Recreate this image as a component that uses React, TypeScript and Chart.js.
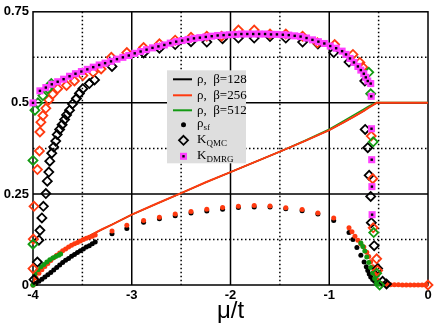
import React, { useEffect, useRef } from "react";
import { Chart, registerables } from "chart.js";
Chart.register(...registerables);

const RED = "#ff3a10";
const GREEN = "#139a13";
const MAGENTA = "#ff40ff";

// axis ticks / grid
const xTicks = [-4, -3, -2, -1, 0];
const yTicks = [0, 0.25, 0.5, 0.75];
const xMajorGrid = [-3, -2, -1];
const yMajorGrid = [0.25, 0.5];
const xMinorGrid = [-3.5, -2.5, -1.5, -0.5];
const yMinorGrid = [0.125, 0.375, 0.625];

// density rho (lines)
const rhoX = [-4, -3.97, -3.94, -3.9, -3.85, -3.8, -3.7, -3.6, -3.5, -3.4, -3.3, -3.2, -3.0, -2.75, -2.5, -2.25, -2.0, -1.75, -1.5, -1.25, -1.0, -0.85, -0.75, -0.65, -0.6, -0.55, -0.52, -0.4, -0.2, 0];
const rho128Y = [0, 0.028, 0.04, 0.052, 0.064, 0.074, 0.092, 0.109, 0.124, 0.139, 0.153, 0.166, 0.193, 0.223, 0.252, 0.282, 0.31, 0.338, 0.366, 0.395, 0.425, 0.447, 0.462, 0.478, 0.487, 0.495, 0.5, 0.5, 0.5, 0.5];
const rho256Y = [0, 0.028, 0.04, 0.052, 0.064, 0.074, 0.092, 0.109, 0.124, 0.139, 0.153, 0.166, 0.193, 0.223, 0.252, 0.282, 0.31, 0.338, 0.366, 0.395, 0.425, 0.447, 0.462, 0.478, 0.487, 0.495, 0.5, 0.5, 0.5, 0.5];
const rho512Y = [0, 0.028, 0.04, 0.052, 0.064, 0.074, 0.092, 0.109, 0.124, 0.139, 0.153, 0.166, 0.193, 0.223, 0.252, 0.282, 0.31, 0.338, 0.366, 0.396, 0.428, 0.451, 0.467, 0.483, 0.491, 0.498, 0.501, 0.501, 0.501, 0.501];

// superfluid density rho_sf (dots)
const sf128X = [-4, -3.97, -3.94, -3.91, -3.88, -3.85, -3.82, -3.79, -3.76, -3.73, -3.7, -3.67, -3.64, -3.61, -3.58, -3.55, -3.52, -3.49, -3.46, -3.43, -3.4, -3.37,
  -3.2, -3.05, -2.88, -2.72, -2.56, -2.4, -2.24, -2.08, -1.92, -1.76, -1.6, -1.44, -1.275, -1.115, -0.955,
  -0.8, -0.76, -0.72, -0.68, -0.647, -0.625, -0.61, -0.595, -0.58, -0.56, -0.54, -0.52, -0.5, -0.47, -0.44, -0.41];
const sf128Y = [0, 0.004, 0.01, 0.016, 0.022, 0.028, 0.034, 0.041, 0.048, 0.055, 0.062, 0.068, 0.073, 0.079, 0.084, 0.089, 0.094, 0.099, 0.104, 0.108, 0.113, 0.118,
  0.141, 0.155, 0.172, 0.182, 0.19, 0.198, 0.203, 0.208, 0.213, 0.214, 0.214, 0.209, 0.204, 0.195, 0.177,
  0.144, 0.125, 0.103, 0.082, 0.063, 0.05, 0.04, 0.03, 0.022, 0.015, 0.01, 0.006, 0.004, 0.003, 0.002, 0.002];
const sf256X = [-4, -3.97, -3.94, -3.91, -3.88, -3.85, -3.82, -3.79, -3.76, -3.73, -3.7, -3.67, -3.64, -3.61, -3.58, -3.55, -3.52, -3.49, -3.46, -3.43, -3.4, -3.37,
  -3.2, -3.05, -2.88, -2.72, -2.56, -2.4, -2.24, -2.08, -1.92, -1.76, -1.6, -1.44, -1.275, -1.115, -0.955,
  -0.8, -0.77, -0.74, -0.71, -0.68, -0.65, -0.62, -0.6, -0.58, -0.56, -0.545, -0.53, -0.51, -0.49, -0.46, -0.42, -0.38, -0.34, -0.3, -0.26, -0.22, -0.18, -0.14, -0.1, -0.06, -0.02];
const sf256Y = [0, 0.02, 0.032, 0.042, 0.051, 0.059, 0.067, 0.075, 0.082, 0.088, 0.094, 0.099, 0.104, 0.109, 0.113, 0.117, 0.121, 0.125, 0.128, 0.131, 0.134, 0.137,
  0.148, 0.164, 0.177, 0.186, 0.195, 0.202, 0.208, 0.213, 0.216, 0.218, 0.217, 0.212, 0.207, 0.198, 0.184,
  0.157, 0.146, 0.134, 0.123, 0.113, 0.104, 0.09, 0.078, 0.064, 0.05, 0.04, 0.027, 0.013, 0.005, 0.003, 0.002, 0.001, 0.001, 0.001, 0, 0, 0, 0, 0, 0, 0];
const sf512X = [-4, -3.98, -3.95, -3.92, -3.89, -3.86, -3.83, -3.8, -3.77, -3.74, -3.72,
  -0.68, -0.66, -0.64, -0.62, -0.6, -0.58, -0.56, -0.54, -0.52, -0.5];
const sf512Y = [0, 0.03, 0.042, 0.05, 0.056, 0.063, 0.069, 0.074, 0.078, 0.082, 0.085,
  0.115, 0.106, 0.093, 0.077, 0.062, 0.048, 0.033, 0.018, 0.007, 0.002];

// K from QMC (open diamonds)
const kq128X = [-3.99, -3.956, -3.94, -3.93, -3.91, -3.895, -3.87, -3.855, -3.84, -3.83, -3.81, -3.79, -3.77, -3.755, -3.73, -3.705, -3.68, -3.66, -3.63, -3.6, -3.56, -3.53, -3.495, -3.43, -3.377,
  -3.2, -2.88, -2.72, -2.56, -2.4, -2.24, -2.08, -1.92, -1.76, -1.6, -1.44, -1.27, -1.115, -0.955, -0.8, -0.64,
  -0.636, -0.61, -0.596, -0.58, -0.574, -0.545, -0.51, -0.46, -0.42];
const kq128Y = [0.015, 0.063, 0.123, 0.15, 0.184, 0.216, 0.251, 0.285, 0.31, 0.34, 0.362, 0.379, 0.395, 0.413, 0.427, 0.44, 0.454, 0.467, 0.48, 0.497, 0.512, 0.526, 0.539, 0.553, 0.563,
  0.6, 0.637, 0.65, 0.66, 0.668, 0.667, 0.676, 0.678, 0.678, 0.682, 0.678, 0.667, 0.662, 0.638, 0.612, 0.56,
  0.427, 0.377, 0.301, 0.243, 0.171, 0.108, 0.045, 0.01, 0.003];
const kq256X = [-4, -3.997, -3.99, -3.955, -3.935, -3.93, -3.92, -3.9, -3.87, -3.84, -3.8, -3.75, -3.66, -3.58, -3.495, -3.39, -3.31, -3.207, -3.05, -2.88, -2.72, -2.56, -2.4, -2.24, -2.09, -1.92, -1.76, -1.6, -1.44, -1.27, -1.12, -0.945, -0.76, -0.69, -0.66,
  -0.575, -0.56, -0.555, -0.52, -0.51, 0];
const kq256Y = [0.045, 0.126, 0.216, 0.317, 0.368, 0.42, 0.447, 0.465, 0.485, 0.508, 0.524, 0.539, 0.548, 0.56, 0.575, 0.584, 0.593, 0.625, 0.638, 0.652, 0.662, 0.672, 0.68, 0.683, 0.683, 0.7, 0.7, 0.689, 0.689, 0.683, 0.665, 0.66, 0.633, 0.611, 0.598,
  0.409, 0.292, 0.157, 0.072, 0.04, 0];
const kq512X = [-4, -4, -3.98, -3.95, -3.9, -3.85, -3.815, -0.6, -0.58, -0.555, -0.55, -0.52, -0.49];
const kq512Y = [0.112, 0.342, 0.48, 0.5, 0.52, 0.539, 0.553, 0.584, 0.525, 0.393, 0.144, 0.032, 0];

// K from DMRG (magenta squares)
const kdX = [-4, -3.93, -3.87, -3.81, -3.75, -3.69, -3.63, -3.57, -3.51, -3.45, -3.39, -3.33, -3.27, -3.21, -3.15, -3.09, -3.03, -2.97, -2.91, -2.85, -2.79, -2.73, -2.67, -2.61, -2.55, -2.49, -2.43, -2.37, -2.31, -2.25, -2.19, -2.13, -2.07, -2.01, -1.95, -1.89, -1.83, -1.77, -1.71, -1.65, -1.59, -1.53, -1.47, -1.41, -1.35, -1.29, -1.23, -1.17, -1.11, -1.05, -0.99, -0.93, -0.87, -0.83, -0.79, -0.75, -0.71, -0.68, -0.65, -0.63, -0.61, -0.58,
  -0.575, -0.572, -0.57, -0.568, -0.566];
const kdY = [0.5, 0.533, 0.542, 0.551, 0.558, 0.565, 0.573, 0.58, 0.586, 0.592, 0.598, 0.604, 0.609, 0.614, 0.62, 0.625, 0.63, 0.636, 0.641, 0.646, 0.651, 0.655, 0.659, 0.664, 0.668, 0.671, 0.674, 0.677, 0.679, 0.681, 0.683, 0.685, 0.686, 0.687, 0.688, 0.689, 0.689, 0.689, 0.689, 0.689, 0.688, 0.688, 0.687, 0.686, 0.684, 0.682, 0.678, 0.673, 0.668, 0.663, 0.656, 0.65, 0.642, 0.633, 0.622, 0.611, 0.6, 0.59, 0.58, 0.57, 0.56, 0.553,
  0.518, 0.429, 0.344, 0.27, 0.193];

const legendLabels = ["ρ,  β=128", "ρ,  β=256", "ρ,  β=512"];

const pts = (xs: number[], ys: number[]) => xs.map((x, i) => ({ x, y: ys[i] }));

const gridPlugin = {
  id: "customGrid",
  beforeDatasetsDraw(chart: any) {
    const { ctx, chartArea: a, scales } = chart;
    const x = scales.x, y = scales.y;
    ctx.save();
    ctx.strokeStyle = "#000";
    ctx.lineWidth = 1.5;
    ctx.setLineDash([]);
    ctx.beginPath();
    xMajorGrid.forEach((v) => { const p = x.getPixelForValue(v); ctx.moveTo(p, a.top); ctx.lineTo(p, a.bottom); });
    yMajorGrid.forEach((v) => { const p = y.getPixelForValue(v); ctx.moveTo(a.left, p); ctx.lineTo(a.right, p); });
    ctx.stroke();
    ctx.setLineDash([1.5, 2.5]);
    ctx.beginPath();
    xMinorGrid.forEach((v) => { const p = x.getPixelForValue(v); ctx.moveTo(p, a.top); ctx.lineTo(p, a.bottom); });
    yMinorGrid.forEach((v) => { const p = y.getPixelForValue(v); ctx.moveTo(a.left, p); ctx.lineTo(a.right, p); });
    ctx.stroke();
    ctx.setLineDash([]);
    ctx.lineWidth = 1.5;
    ctx.strokeRect(a.left, a.top, a.right - a.left, a.bottom - a.top);
    ctx.restore();
  },
};

const legendPlugin = {
  id: "customLegend",
  afterDatasetsDraw(chart: any) {
    const { ctx, chartArea: a } = chart;
    const bx = a.left + 134, by = a.top + 58.5, bw = 79, bh = 93;
    ctx.save();
    ctx.fillStyle = "#dedede";
    ctx.fillRect(bx, by, bw, bh);
    const rows = [9, 25, 40, 54.5, 70, 86];
    const sx0 = bx + 6, sx1 = bx + 25, sc = bx + 16.5, tx = bx + 30;
    const colors = ["#000", RED, GREEN];
    ctx.textBaseline = "middle";
    ctx.textAlign = "left";
    ctx.fillStyle = "#000";
    for (let i = 0; i < 3; i++) {
      const yy = by + rows[i];
      ctx.strokeStyle = colors[i];
      ctx.lineWidth = 2;
      ctx.beginPath(); ctx.moveTo(sx0, yy); ctx.lineTo(sx1, yy); ctx.stroke();
      ctx.fillStyle = "#000";
      ctx.font = '13px "Liberation Serif"';
      ctx.fillText(legendLabels[i], tx, yy);
    }
    // rho_sf
    let yy = by + rows[3];
    ctx.beginPath(); ctx.arc(sc, yy, 2.5, 0, Math.PI * 2); ctx.fill();
    ctx.font = '13px "Liberation Serif"';
    ctx.fillText("ρ", tx, yy - 1);
    let w = ctx.measureText("ρ").width;
    ctx.font = '9px "Liberation Serif"';
    ctx.fillText("sf", tx + w, yy + 3);
    // K_QMC
    yy = by + rows[4];
    ctx.strokeStyle = "#000"; ctx.lineWidth = 1.8;
    ctx.beginPath(); ctx.moveTo(sc, yy - 4.5); ctx.lineTo(sc + 4.5, yy); ctx.lineTo(sc, yy + 4.5); ctx.lineTo(sc - 4.5, yy); ctx.closePath(); ctx.stroke();
    ctx.font = '13px "Liberation Serif"';
    ctx.fillText("K", tx, yy - 1);
    w = ctx.measureText("K").width;
    ctx.font = '9px "Liberation Serif"';
    ctx.fillText("QMC", tx + w, yy + 3);
    // K_DMRG
    yy = by + rows[5];
    ctx.fillStyle = MAGENTA;
    ctx.fillRect(sc - 3.5, yy - 3.5, 7, 7);
    ctx.fillStyle = "#000";
    ctx.fillRect(sc - 1.2, yy - 1.2, 2.4, 2.4);
    ctx.font = '13px "Liberation Serif"';
    ctx.fillText("K", tx, yy - 1);
    w = ctx.measureText("K").width;
    ctx.font = '9px "Liberation Serif"';
    ctx.fillText("DMRG", tx + w, yy + 3);
    ctx.restore();
  },
};

export default function App() {
  const ref = useRef<HTMLCanvasElement>(null);
  useEffect(() => {
    document.body.style.margin = "0";
    const lineDs = (label: string, ys: number[], color: string, width: number, order: number) => ({
      label, data: pts(rhoX, ys), showLine: true, borderColor: color, borderWidth: width, pointRadius: 0, order,
    });
    const dotDs = (label: string, xs: number[], ys: number[], color: string, order: number) => ({
      label, data: pts(xs, ys), showLine: false, pointRadius: 2.5, pointBackgroundColor: color, pointBorderWidth: 0, order, clip: false,
    });
    const diaDs = (label: string, xs: number[], ys: number[], color: string, order: number) => ({
      label, data: pts(xs, ys), showLine: false, pointStyle: "rectRot", pointRadius: 4.5, pointBorderColor: color,
      pointBorderWidth: 1.8, pointBackgroundColor: "rgba(0,0,0,0)", order, clip: false,
    });
    const chart = new Chart(ref.current as HTMLCanvasElement, {
      type: "scatter",
      data: {
        datasets: [
          lineDs("rho128", rho128Y, "#000", 1.2, 12),
          lineDs("rho512", rho512Y, GREEN, 1.4, 11),
          lineDs("rho256", rho256Y, RED, 2, 10),
          dotDs("sf128", sf128X, sf128Y, "#000", 9),
          dotDs("sf256", sf256X, sf256Y, RED, 8),
          dotDs("sf512", sf512X, sf512Y, GREEN, 7),
          diaDs("kq128", kq128X, kq128Y, "#000", 6),
          diaDs("kq256", kq256X, kq256Y, RED, 5),
          diaDs("kq512", kq512X, kq512Y, GREEN, 4),
          {
            label: "kdmrg", data: pts(kdX, kdY), showLine: false, pointStyle: "rect", pointRadius: 5,
            pointBackgroundColor: MAGENTA, pointBorderWidth: 0, order: 2, clip: false,
          },
          {
            label: "kdmrgc", data: pts(kdX, kdY), showLine: false, pointStyle: "rect", pointRadius: 1.7,
            pointBackgroundColor: "#000", pointBorderWidth: 0, order: 1, clip: false,
          },
        ] as any,
      },
      options: {
        animation: false,
        responsive: false,
        events: [],
        layout: { padding: { top: 8.5, right: 8, left: 0, bottom: 0 } },
        plugins: { legend: { display: false }, tooltip: { enabled: false } },
        scales: {
          x: {
            type: "linear", min: -4, max: 0,
            afterBuildTicks: (s: any) => { s.ticks = xTicks.map((v) => ({ value: v })); },
            afterFit: (s: any) => { s.height = 42; },
            grid: { display: false, drawTicks: false },
            border: { display: false },
            ticks: {
              callback: (v: any) => String(v), color: "#000", padding: 3, autoSkip: false, maxRotation: 0,
              font: { family: '"Liberation Sans", Arial', size: 13, weight: "bold" },
            },
            title: {
              display: true, text: "μ/t", color: "#000",
              font: { family: '"Liberation Sans", Arial', size: 24 }, padding: { top: 0, bottom: 1 },
            },
          },
          y: {
            type: "linear", min: 0, max: 0.75,
            afterBuildTicks: (s: any) => { s.ticks = yTicks.map((v) => ({ value: v })); },
            afterFit: (s: any) => { s.width = 33; },
            grid: { display: false, drawTicks: false },
            border: { display: false },
            ticks: {
              callback: (v: any) => String(v), color: "#000", padding: 4,
              font: { family: '"Liberation Sans", Arial', size: 13, weight: "bold" },
            },
          },
        },
      } as any,
      plugins: [gridPlugin, legendPlugin],
    });
    return () => chart.destroy();
  }, []);
  return (
    <div style={{ width: 436, height: 327 }}>
      <canvas ref={ref} width={436} height={327} style={{ display: "block" }} />
    </div>
  );
}
